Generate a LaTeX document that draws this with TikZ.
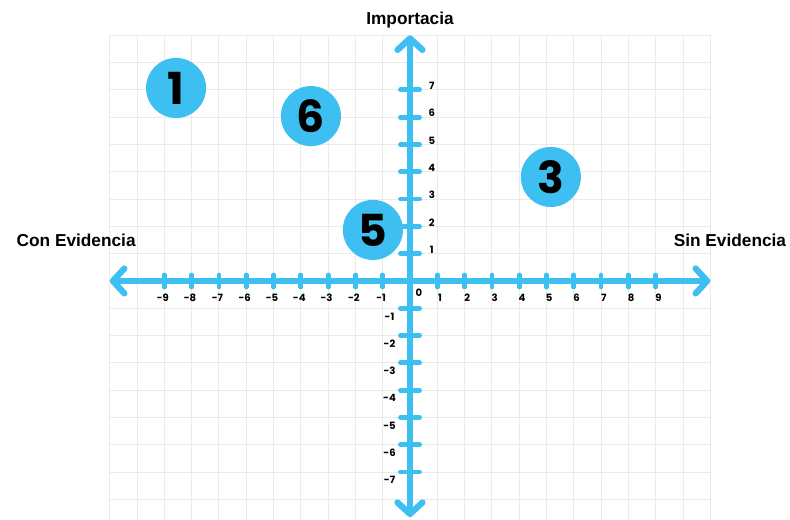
\documentclass[tikz,border=0pt]{standalone}
\usepackage{fontspec}
\setmainfont{Liberation Sans}
\newfontfamily\numfont{Poppins}
\usetikzlibrary{arrows.meta}
\definecolor{celeste}{HTML}{3DBFF2}
\definecolor{rejilla}{HTML}{EAEAEA}

\begin{document}
\begin{tikzpicture}[
  >={Straight Barb[length=12pt, width=26pt, round]},
  eje/.style={celeste, line width=6.5pt, line cap=round},
  marca/.style={celeste, line width=5pt, line cap=round},
  etiq/.style={font=\fontsize{18}{20}\selectfont\bfseries},
  cifra/.style={font=\numfont\bfseries\fontsize{10.5}{12}\selectfont, inner sep=0pt},
  burbuja/.style={circle, fill=celeste, minimum size=2.2cm, inner sep=0pt,
    font=\numfont\bfseries\fontsize{46}{46}\selectfont}]
  \useasboundingbox (-15.02,-8.755) rectangle (13.92,10.293);

  % rejilla de fondo
  \draw[rejilla, line width=0.9pt] (-11,-8.755) grid (11,9);

  \coordinate (xizq) at (-11,0);
  \coordinate (xder) at (11,0);
  \coordinate (yarr) at (0,9);
  \coordinate (yaba) at (0,-8.65);

  % marcas de los ejes
  \foreach \k in {-9,...,-1,1,2,...,9}
    \draw[marca] (\k,-0.22) -- (\k,0.22);
  \foreach \k in {-7,...,-1,1,2,...,7}
    \draw[marca] (-0.35,\k) -- (0.35,\k);

  \draw[eje, <->] (xizq) -- (xder);
  \draw[eje, <->] (yaba) -- (yarr);

  % numeros
  \foreach \k in {1,...,9} {
    \node[cifra] (ex\k) at (\k+0.1,-0.62) {\k};
    \node[cifra] (exm\k) at (-\k+0.05,-0.62) {\llap{-}\k};
  }
  \foreach \k in {1,...,7} {
    \node[cifra] (ey\k) at (0.8,\k+0.15) {\k};
    \node[cifra] (eym\k) at (-0.75,-\k-0.3) {-\k};
  }
  \node[cifra] (cero) at (0.33,-0.44) {0};

  \node[etiq] (importancia) at (0,9.56) {Importacia};
  \node[etiq] (conev) at (-12.23,1.5) {Con Evidencia};
  \node[etiq] (sinev) at (11.72,1.5) {Sin Evidencia};

  \node[burbuja] (p1) at (-8.57,7.07) {1};
  \node[burbuja] (p6) at (-3.63,6.04) {6};
  \node[burbuja] (p3) at (5.16,3.81) {3};
  \node[burbuja] (p5) at (-1.36,1.87) {5};
\end{tikzpicture}
\end{document}
